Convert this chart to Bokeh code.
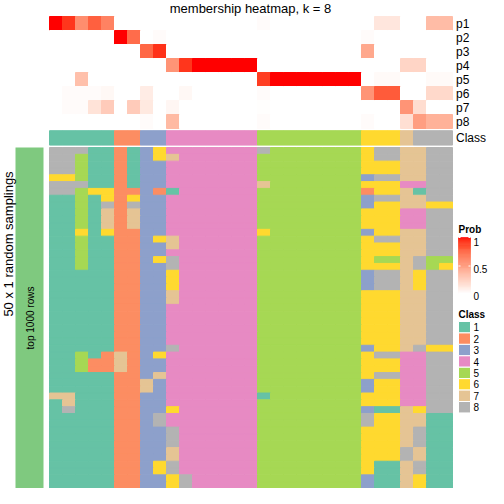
import numpy as np
from bokeh.plotting import figure
from bokeh.models import Range1d, LinearColorMapper, CategoricalColorMapper, ColumnDataSource
from bokeh.transform import transform
from bokeh.core.properties import value
from bokeh.embed import file_html
from bokeh.resources import INLINE

# ---------------- data ----------------
title = "membership heatmap, k = 8"
prob_names = ["p1", "p2", "p3", "p4", "p5", "p6", "p7", "p8"]
p1 = [1.0, 0.92, 0.58, 0.78, 0.63, 0, 0, 0, 0, 0, 0, 0, 0, 0, 0, 0, 0.02, 0, 0, 0, 0, 0, 0, 0, 0, 0.13, 0.13, 0, 0, 0.35, 0.35]
p2 = [0, 0, 0, 0, 0, 1.0, 0.73, 0, 0.02, 0, 0, 0, 0, 0, 0, 0, 0, 0, 0, 0, 0, 0, 0, 0, 0.02, 0, 0, 0, 0, 0, 0]
p3 = [0, 0, 0, 0, 0, 0, 0, 0.75, 0.93, 0, 0, 0, 0, 0, 0, 0, 0, 0, 0, 0, 0, 0, 0, 0, 0.45, 0, 0, 0, 0, 0, 0]
p4 = [0, 0, 0, 0, 0, 0, 0, 0, 0, 0.55, 0.92, 1.0, 1.0, 1.0, 1.0, 1.0, 0, 0, 0, 0, 0, 0, 0, 0, 0, 0, 0, 0.22, 0.22, 0, 0]
p5 = [0, 0, 0.33, 0, 0, 0, 0, 0, 0, 0, 0, 0, 0, 0, 0, 0, 0.9, 1.0, 1.0, 1.0, 1.0, 1.0, 1.0, 1.0, 0, 0.03, 0.03, 0, 0, 0.03, 0.03]
p6 = [0, 0.02, 0.02, 0.02, 0.04, 0, 0, 0.1, 0, 0, 0.04, 0, 0, 0, 0, 0, 0.02, 0, 0, 0, 0, 0, 0, 0, 0.55, 0.8, 0.8, 0, 0, 0.2, 0.2]
p7 = [0, 0.02, 0.02, 0.15, 0.27, 0, 0.27, 0.12, 0, 0.05, 0, 0, 0, 0, 0, 0, 0.01, 0, 0, 0, 0, 0, 0, 0, 0, 0, 0, 0.55, 0.18, 0, 0]
p8 = [0, 0, 0, 0, 0, 0, 0, 0.02, 0, 0.36, 0, 0, 0, 0, 0, 0, 0.02, 0, 0, 0, 0, 0, 0, 0, 0.02, 0, 0, 0.17, 0.5, 0.4, 0.4]
prob_rows = [p1, p2, p3, p4, p5, p6, p7, p8]

class_row = [1, 1, 1, 1, 1, 2, 2, 3, 3, 4, 4, 4, 4, 4, 4, 4, 5, 5, 5, 5, 5, 5, 5, 5, 6, 6, 6, 7, 8, 8, 8]

sampling_rows = [
    "8881121364444444855555556887788",
    "8851121367444444555555556887788",
    "8851121334444444555555556667788",
    "8851121334444444555555556667788",
    "6651121334444444555555553887788",
    "8881121334444444755555556664488",
    "8856622321444444555555552667188",
    "1151626334444444555555553887788",
    "1151828334444444555555553667766",
    "1151727334444444555555556664488",
    "1151727334444444555555556664488",
    "1151727334444444555555556664488",
    "1161622334444444655555553667788",
    "1151122367444444555555556887788",
    "1151122337444444555555556667788",
    "1151122334444444555555556667788",
    "1151122368444444555555556557855",
    "1151122338444444555555556667856",
    "1111122336444444555555553887688",
    "1111122336444444555555553887688",
    "1111122336444444555555553887688",
    "1111122337444444555555556667788",
    "1111122337444444555555556667788",
    "1111122334444444555555556667788",
    "1111122334444444555555556667788",
    "1111122334444444555555556667788",
    "1111122334444444555555556667788",
    "1111122334444444555555556667788",
    "1111122334444444555555556667788",
    "1111122338444444555555553667866",
    "1151272364444444555555556884488",
    "1152272334444444555555556664488",
    "1152272334444444555555556664488",
    "1111122374444444555555556884488",
    "1111122734444444555555553664488",
    "1111122734444444555555553664488",
    "7711122334444444155555556664488",
    "1711122334444444555555556664488",
    "1811122336444444555555553117688",
    "1111122384444444555555558667711",
    "1111122384444444555555558667711",
    "1111122338444444555555556667811",
    "1111122338444444555555556667811",
    "1111122338444444555555556667811",
    "1111122337444444555555556668711",
    "1111122337444444555555556668711",
    "1111122368444444555555556117811",
    "1111122368444444555555556117811",
    "1111122336844444555555553117611",
    "1111122336844444555555553117611",
]

class_labels = ["1", "2", "3", "4", "5", "6", "7", "8"]
class_colors = ["#66C2A5", "#FC8D62", "#8DA0CB", "#E78AC3", "#A6D854", "#FFD92F", "#E5C494", "#B3B3B3"]
left_anno_color = "#7FC97F"
left_anno_text = "top 1000 rows"
row_title = "50 x 1 random samplings"
prob_ticks = [1.0, 0.5, 0.0]
prob_tick_labels = ["1", "0.5", "0"]

# ---------------- colour scale (white -> red, LAB interpolation) ----------------
M = np.array([[0.4124564, 0.3575761, 0.1804375],
              [0.2126729, 0.7151522, 0.0721750],
              [0.0193339, 0.1191920, 0.9503041]])
WP = np.array([0.95047, 1.0, 1.08883])


def _lin(c):
    c = np.asarray(c, dtype=float) / 255.0
    return np.where(c <= 0.04045, c / 12.92, ((c + 0.055) / 1.055) ** 2.4)


def rgb2lab(rgb):
    xyz = (M @ _lin(rgb)) / WP
    f = np.where(xyz > 216 / 24389, np.cbrt(xyz), (24389 / 27 * xyz + 16) / 116)
    return np.array([116 * f[1] - 16, 500 * (f[0] - f[1]), 200 * (f[1] - f[2])])


def lab2hex(lab):
    L, a, b = lab
    fy = (L + 16) / 116
    fx = fy + a / 500
    fz = fy - b / 200

    def finv(t):
        return t ** 3 if t ** 3 > 216 / 24389 else (116 * t - 16) / (24389 / 27)

    xyz = np.array([finv(fx), finv(fy), finv(fz)]) * WP
    lin = np.clip(np.linalg.inv(M) @ xyz, 0, 1)
    s = np.where(lin <= 0.0031308, 12.92 * lin, 1.055 * lin ** (1 / 2.4) - 0.055)
    r, g, bb = np.round(np.clip(s, 0, 1) * 255).astype(int)
    return "#%02x%02x%02x" % (r, g, bb)


lab_w = rgb2lab([255, 255, 255])
lab_r = rgb2lab([255, 0, 0])
palette = [lab2hex(lab_w + (lab_r - lab_w) * t) for t in np.linspace(0, 1, 256)]
prob_mapper = LinearColorMapper(palette=palette, low=0, high=1)
class_mapper = CategoricalColorMapper(factors=class_labels, palette=class_colors)

# ---------------- layout (figure pixels, y downwards) ----------------
W = H = 488
HX0, HX1 = 49.0, 452.0
ncol = len(class_row)
CW = (HX1 - HX0) / ncol
PY0, PRH = 16.0, 14.0
CLY0, CLY1 = 130.2, 144.6
MY0, MY1 = 147.0, 488.0
nrow = len(sampling_rows)
RH = (MY1 - MY0) / nrow
LX0, LX1 = 15.0, 43.0
FONT = value("Liberation Sans")
LW = 1.0

p = figure(width=W, height=H, x_range=Range1d(0, W), y_range=Range1d(H, 0),
           output_backend="svg", toolbar_location=None, min_border=0,
           x_axis_location=None, y_axis_location=None)
p.grid.visible = False
p.outline_line_color = None
p.background_fill_color = "white"
p.border_fill_color = "white"

# probability heatmap
pl, pr, pt, pb, pv = [], [], [], [], []
for i, row in enumerate(prob_rows):
    for j, v in enumerate(row):
        pl.append(HX0 + j * CW); pr.append(HX0 + (j + 1) * CW)
        pt.append(PY0 + i * PRH); pb.append(PY0 + (i + 1) * PRH)
        pv.append(v)
src_p = ColumnDataSource(dict(left=pl, right=pr, top=pt, bottom=pb, v=pv))
p.quad(left="left", right="right", top="top", bottom="bottom", source=src_p,
       fill_color=transform("v", prob_mapper), line_color=transform("v", prob_mapper), line_width=LW)

# class annotation row
src_c = ColumnDataSource(dict(left=[HX0 + j * CW for j in range(ncol)],
                              right=[HX0 + (j + 1) * CW for j in range(ncol)],
                              top=[CLY0] * ncol, bottom=[CLY1] * ncol,
                              cls=[str(c) for c in class_row]))
p.quad(left="left", right="right", top="top", bottom="bottom", source=src_c,
       fill_color=transform("cls", class_mapper), line_color=transform("cls", class_mapper), line_width=LW)

# main membership heatmap
ml, mr, mt, mb, mc = [], [], [], [], []
for i, row in enumerate(sampling_rows):
    for j, ch in enumerate(row):
        ml.append(HX0 + j * CW); mr.append(HX0 + (j + 1) * CW)
        mt.append(MY0 + i * RH); mb.append(MY0 + (i + 1) * RH)
        mc.append(ch)
src_m = ColumnDataSource(dict(left=ml, right=mr, top=mt, bottom=mb, cls=mc))
p.quad(left="left", right="right", top="top", bottom="bottom", source=src_m,
       fill_color=transform("cls", class_mapper), line_color=transform("cls", class_mapper), line_width=LW)

# left annotation bar
p.quad(left=[LX0], right=[LX1], top=[MY0], bottom=[MY1], fill_color=left_anno_color, line_color=None)
p.text(x=[(LX0 + LX1) / 2 + 0.5], y=[(MY0 + MY1) / 2], text=[left_anno_text], angle=np.pi / 2,
       text_font=FONT, text_font_size="10px", text_align="center", text_baseline="middle", text_color="black")
p.text(x=[7.5], y=[243.5], text=[row_title], angle=np.pi / 2,
       text_font=FONT, text_font_size="13px", text_align="center", text_baseline="middle", text_color="black")

# title
p.text(x=[250.0], y=[0.5], text=[title], text_font=FONT, text_font_size="13px",
       text_align="center", text_baseline="top", text_color="black")

# row names
names = prob_names + ["Class"]
ys = [PY0 + (i + 0.5) * PRH for i in range(len(prob_names))] + [(CLY0 + CLY1) / 2]
p.text(x=[HX1 + 3.5] * len(names), y=ys, text=names, text_font=FONT, text_font_size="12px",
       text_align="left", text_baseline="middle", text_color="black")

# Prob legend
LGX0, LGX1 = 458.0, 470.0
CB0, CB1 = 237.0, 294.0
p.text(x=[LGX0], y=[229.0], text=["Prob"], text_font=FONT, text_font_size="10px", text_font_style="bold",
       text_align="left", text_baseline="middle", text_color="black")
nseg = 60
edges = np.linspace(CB0, CB1, nseg + 1)
seg_vals = list(np.linspace(1, 0, nseg))
src_cb = ColumnDataSource(dict(left=[LGX0] * nseg, right=[LGX1] * nseg,
                               top=list(edges[:-1]), bottom=list(edges[1:]), v=seg_vals))
p.quad(left="left", right="right", top="top", bottom="bottom", source=src_cb,
       fill_color=transform("v", prob_mapper), line_color=transform("v", prob_mapper), line_width=0.6)
tick_y = [CB1 - t * (CB1 - CB0) for t in prob_ticks]
p.segment(x0=[LGX0] * 3, x1=[LGX0 + 2] * 3, y0=tick_y, y1=tick_y, line_color="white", line_width=1)
p.segment(x0=[LGX1 - 2] * 3, x1=[LGX1] * 3, y0=tick_y, y1=tick_y, line_color="white", line_width=1)
p.text(x=[LGX1 + 3] * 3, y=[241.0, 268.0, 295.0], text=prob_tick_labels, text_font=FONT,
       text_font_size="10px", text_align="left", text_baseline="middle", text_color="black")

# Class legend
p.text(x=[LGX0], y=[313.7], text=["Class"], text_font=FONT, text_font_size="10px", text_font_style="bold",
       text_align="left", text_baseline="middle", text_color="black")
SW0, SWH = 321.0, 11.43
src_lg = ColumnDataSource(dict(left=[LGX0] * 8, right=[LGX1] * 8,
                               top=[SW0 + k * SWH for k in range(8)],
                               bottom=[SW0 + (k + 1) * SWH for k in range(8)],
                               cls=class_labels))
p.quad(left="left", right="right", top="top", bottom="bottom", source=src_lg,
       fill_color=transform("cls", class_mapper), line_color="white", line_width=1)
p.text(x=[LGX1 + 3] * 8, y=[SW0 + (k + 0.5) * SWH for k in range(8)], text=class_labels, text_font=FONT,
       text_font_size="10px", text_align="left", text_baseline="middle", text_color="black")

open("out.html", "w").write(file_html(p, INLINE))
